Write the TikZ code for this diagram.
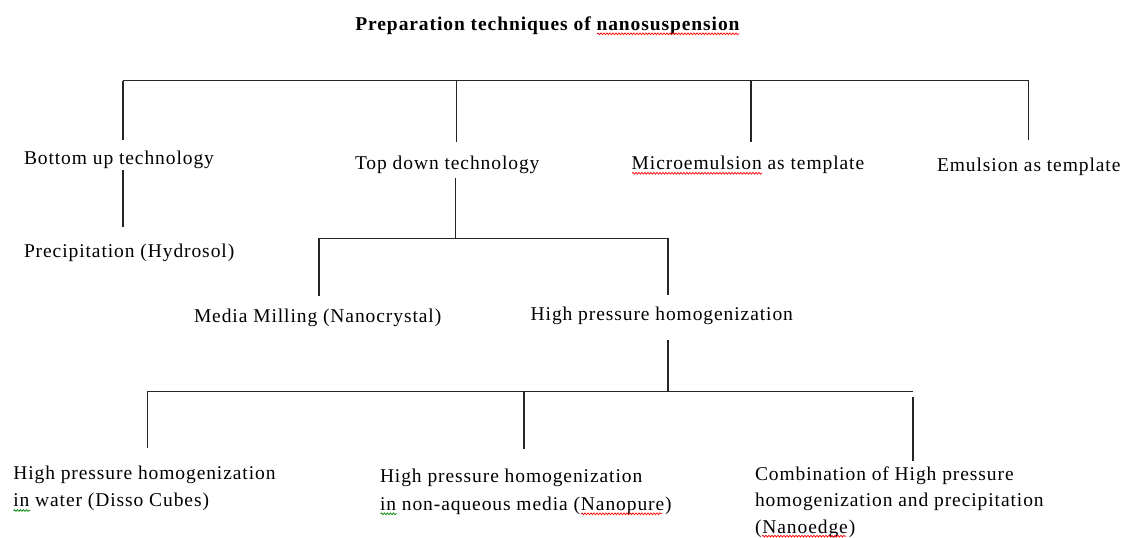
\documentclass[tikz,border=0pt]{standalone}
\usepackage{fontspec}
\usepackage{xcolor}
\usetikzlibrary{decorations.pathmorphing}
\setmainfont{Liberation Serif}[LetterSpace=4.7]
\tikzset{
  lbl/.style={inner sep=0pt, outer sep=0pt, anchor=base west, align=left,
    font=\fontsize{19.5}{27.3}\selectfont},
  ttl/.style={inner sep=0pt, outer sep=0pt, anchor=base,
    font=\fontsize{19.5}{24}\selectfont\bfseries},
  conn/.style={draw=black!85, line width=1.1pt},
  squig/.style={line width=0.7pt, decorate,
    decoration={snake, amplitude=0.9pt, segment length=3pt}}
}
\begin{document}
\begin{tikzpicture}[x=1pt,y=-1pt]
\useasboundingbox[fill=white] (0,0) rectangle (1122,538);
% texts (multi-line nodes are anchored at the baseline of their last line)
\node[ttl] (T) at (547.5,30.7) {Preparation techniques of nanosuspension};
\node[lbl] (bu) at (24,164.3) {Bottom up technology};
\node[lbl] (td) at (355,169.3) {Top down technology};
\node[lbl] (me) at (631.7,169.3) {Microemulsion as template};
\node[lbl] (em) at (937,171) {Emulsion as template};
\node[lbl] (pr) at (24,257) {Precipitation (Hydrosol)};
\node[lbl] (mm) at (194,322) {Media Milling (Nanocrystal)};
\node[lbl] (hp) at (530.7,320) {High pressure homogenization};
\node[lbl] (wa) at (13.3,506.7) {High pressure homogenization\\in water (Disso Cubes)};
\node[lbl] (na) at (380,510) {High pressure homogenization\\in non-aqueous media (Nanopure)};
\node[lbl, font=\fontsize{19.5}{26.5}\selectfont] (ne) at (755,533.3) {Combination of High pressure\\homogenization and precipitation\\(Nanoedge)};
% spell-check squiggles shown in the reference
\draw[squig,red] (597,33.8) -- (739,33.8);
\draw[squig,red] (632,173.3) -- (762,173.3);
\draw[squig,green!55!black] (13.5,510.5) -- (30,510.5);
\draw[squig,green!55!black] (380.5,513.8) -- (397,513.8);
\draw[squig,red] (581,513.8) -- (662,513.8);
\draw[squig,red] (762,536.2) -- (846,536.2);
% level 1 bus
\coordinate (rL) at (123,80.7);
\coordinate (rR) at (1028.5,80.7);
\coordinate (r2) at (456.5,80.7);
\coordinate (r3) at (751,80.7);
\draw[conn] (rL) -- (rR);
\draw[conn] (rL) -- ++(0,59.3);
\draw[conn] (r2) -- ++(0,60.8);
\draw[conn] (r3) -- ++(0,60.8);
\draw[conn] (rR) -- ++(0,59.3);
% bottom up -> precipitation
\coordinate (buo) at (123,170);
\draw[conn] (buo) -- ++(0,56.7);
% top down -> bus
\coordinate (tdo) at (455.5,178);
\coordinate (b2) at (455.5,238.3);
\coordinate (b2L) at (319,238.3);
\coordinate (b2R) at (668,238.3);
\draw[conn] (tdo) -- (b2);
\draw[conn] (b2L) -- (b2R);
\draw[conn] (b2L) -- ++(0,57.7);
\draw[conn] (b2R) -- ++(0,56.7);
% high pressure -> bus
\coordinate (hpo) at (668,340);
\coordinate (b3) at (668,391.7);
\coordinate (b3L) at (147.3,391.7);
\coordinate (b3M) at (524,391.7);
\coordinate (b3R) at (913,391.7);
\draw[conn] (hpo) -- (b3);
\draw[conn] (b3L) -- (b3R);
\draw[conn] (b3L) -- ++(0,56.6);
\draw[conn] (b3M) -- ++(0,57.6);
\draw[conn] ([yshift=-5pt]b3R) -- ++(0,64);
\end{tikzpicture}
\end{document}
